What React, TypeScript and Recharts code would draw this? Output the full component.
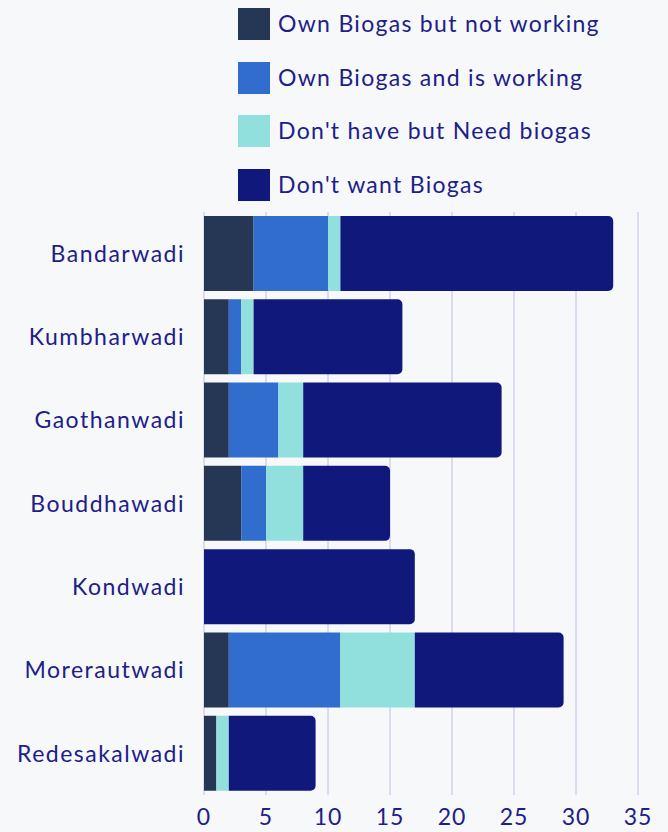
import React from 'react';
import { BarChart, Bar, XAxis, YAxis, CartesianGrid } from 'recharts';

const villages = [
  'Bandarwadi',
  'Kumbharwadi',
  'Gaothanwadi',
  'Bouddhawadi',
  'Kondwadi',
  'Morerautwadi',
  'Redesakalwadi',
];
const ownNotWorking = [4, 2, 2, 3, 0, 2, 1];
const ownWorking = [6, 1, 4, 2, 0, 9, 0];
const needBiogas = [1, 1, 2, 3, 0, 6, 1];
const dontWant = [22, 12, 16, 7, 17, 12, 7];
const xTicks = [0, 5, 10, 15, 20, 25, 30, 35];

const series = [
  { key: 'ownNotWorking', name: 'Own Biogas but not working', color: '#263756' },
  { key: 'ownWorking', name: 'Own Biogas and is working', color: '#316dcc' },
  { key: 'needBiogas', name: "Don't have but Need biogas", color: '#91e0dd' },
  { key: 'dontWant', name: "Don't want Biogas", color: '#10187b' },
];

const data = villages.map((name, i) => ({
  name,
  ownNotWorking: ownNotWorking[i],
  ownWorking: ownWorking[i],
  needBiogas: needBiogas[i],
  dontWant: dontWant[i],
}));

const textColor = '#1d2089';
const font = 'Lato, sans-serif';

function LegendBox() {
  return (
    <div style={{ position: 'absolute', left: 238, top: 8 }}>
      {series.map((s) => (
        <div key={s.key} style={{ position: 'relative', height: 53.5 }}>
          <div style={{ position: 'absolute', left: 0, top: 0, width: 32, height: 32, background: s.color }} />
          <span
            style={{
              position: 'absolute',
              left: 40,
              top: -1,
              whiteSpace: 'nowrap',
              fontFamily: font,
              fontSize: 23,
              letterSpacing: 1.3,
              lineHeight: '32px',
              color: textColor,
            }}
          >
            {s.name}
          </span>
        </div>
      ))}
    </div>
  );
}

export default function App() {
  return (
    <div style={{ position: 'absolute', left: 0, top: 0, width: 668, height: 832, background: '#f7f8fa' }}>
      <BarChart
        width={668}
        height={832}
        data={data}
        layout="vertical"
        barCategoryGap={4}
        margin={{ top: 212, right: 30, bottom: 7, left: 0 }}
      >
        <CartesianGrid horizontal={false} stroke="#bcc0e8" />
        <XAxis
          type="number"
          domain={[0, 35]}
          ticks={xTicks}
          axisLine={false}
          tickLine={false}
          height={30}
          tick={{ fill: textColor, fontSize: 23, fontFamily: font, letterSpacing: 1 }}
          tickMargin={8}
        />
        <YAxis
          type="category"
          dataKey="name"
          width={204}
          axisLine={false}
          tickLine={false}
          tickSize={0}
          tickMargin={19}
          tick={{ fill: textColor, fontSize: 23, fontFamily: font, letterSpacing: 1.5 }}
        />
        {series.map((s, i) => (
          <Bar
            key={s.key}
            dataKey={s.key}
            name={s.name}
            stackId="a"
            fill={s.color}
            radius={i === series.length - 1 ? [0, 5, 5, 0] : 0}
            isAnimationActive={false}
          />
        ))}
      </BarChart>
      <LegendBox />
    </div>
  );
}
